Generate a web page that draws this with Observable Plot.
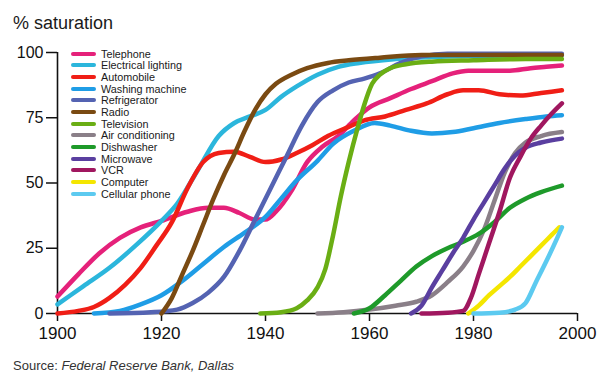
<!DOCTYPE html>
<html><head><meta charset="utf-8">
<script src="https://cdn.jsdelivr.net/npm/d3@7"></script>
<script src="https://cdn.jsdelivr.net/npm/@observablehq/plot@0.6"></script>
<style>
body{margin:0;background:#fff;font-family:"Liberation Sans",Arial,Helvetica,sans-serif;}
#wrap{position:relative;width:597px;height:374px;overflow:hidden;background:#fff}
#title{height:40px;box-sizing:border-box;padding:13px 0 0 13px;font-size:18px;line-height:20px;color:#1a1a1a}
#chart svg{display:block}
#legend{position:absolute;left:71px;top:48px;font-size:10.8px;color:#1a1a1a}
.item{height:11.65px;display:flex;align-items:center;white-space:nowrap}
.sw{width:25px;height:4px;margin-right:5px;border-radius:2px}
#caption{margin-top:8px;padding-left:13px;font-size:13px;line-height:15px;color:#333}
</style>
</head><body>
<div id="wrap">
  <div id="title">% saturation</div>
  <div id="chart"></div>
  <div id="caption">Source: <i>Federal Reserve Bank, Dallas</i></div>
  <div id="legend"></div>
</div>
<script>
const seriesNames = ["Telephone","Electrical lighting","Automobile","Washing machine","Refrigerator","Radio","Television","Air conditioning","Dishwasher","Microwave","VCR","Computer","Cellular phone"];
const seriesColors = ["#e5217a","#2bb6dc","#f01e16","#1f9de6","#5463b2","#7a4a12","#6aae14","#8a7f88","#1e9a2a","#5a3fa0","#a0175f","#f4e600","#5ccaf0"];
const xTicks = [1900,1920,1940,1960,1980,2000];
const yTicks = [0,25,50,75,100];

const telephone = [[1900,6.5],[1904,15],[1908,23],[1912,29],[1916,33],[1920,35.5],[1925,39],[1929,40.5],[1932,40.5],[1935,38.5],[1938,36],[1940,36],[1942,39],[1945,47],[1948,58],[1951,64],[1954,68],[1957,74],[1960,79],[1964,82.5],[1968,86],[1972,89],[1976,92],[1979,93],[1983,93],[1987,93],[1991,94],[1994,94.5],[1997,95]];
const electricalLighting = [[1900,3.5],[1905,10.5],[1910,17.5],[1915,26],[1920,35.5],[1923,42],[1927,55],[1931,68],[1934,73],[1937,75.5],[1940,78],[1943,83],[1946,87],[1950,91.5],[1954,94.5],[1958,96],[1965,97.5],[1975,98.5],[1997,99]];
const automobile = [[1900,0],[1904,1],[1907,2.5],[1910,6],[1913,11],[1916,17.5],[1919,26],[1922,35],[1925,48],[1928,58],[1931,61.5],[1934,62],[1937,60],[1940,58],[1943,59],[1946,61.5],[1949,64.5],[1952,68],[1956,71.5],[1959,74],[1963,75.5],[1967,78],[1971,80.5],[1975,84],[1978,85.5],[1981,85.5],[1985,84],[1989,83.5],[1993,84.5],[1997,85.5]];
const washingMachine = [[1907,0],[1912,1],[1916,3.5],[1920,7],[1924,12.5],[1928,19],[1932,25.5],[1936,31],[1940,37],[1943,44],[1946,51],[1950,58.5],[1953,65],[1957,70],[1961,73],[1964,72],[1968,70],[1972,69],[1976,69.5],[1980,71],[1985,73],[1990,74.5],[1994,75.5],[1997,76]];
const refrigerator = [[1910,0],[1918,0.5],[1923,1.5],[1926,4],[1929,8],[1932,14],[1935,24],[1938,36],[1941,48],[1944,60],[1947,72],[1950,81],[1953,85.5],[1956,88.5],[1959,90],[1962,92],[1966,96],[1970,98.5],[1975,99.5],[1997,99.5]];
const radio = [[1920,0],[1922,6],[1924,15],[1926,24],[1928,34],[1930,44],[1932,53],[1934,61],[1936,70],[1938,78],[1940,84],[1942,88],[1945,91.5],[1948,94],[1952,96],[1956,97],[1962,98],[1970,99],[1997,99]];
const television = [[1939,0],[1943,0.5],[1946,2],[1948,5],[1950,10],[1951.5,17],[1953,30],[1954.5,45],[1956,58],[1957.7,71],[1959,80],[1960.5,88],[1962,91.5],[1964,94],[1967,95.5],[1972,96.5],[1980,97],[1990,97.5],[1997,97.5]];
const airConditioning = [[1950,0],[1955,0.5],[1960,1.5],[1965,3],[1969,4.5],[1972,7],[1975,12],[1978,18],[1980,24],[1982,32],[1984,43],[1986,54],[1988,61.5],[1990,65.5],[1993,68],[1997,69.5]];
const dishwasher = [[1957,0],[1960,2],[1963,7],[1966,12.5],[1969,18],[1972,22],[1975,25],[1978,27.5],[1981,30.5],[1984,35],[1987,40.5],[1990,44],[1993,46.5],[1997,49]];
const microwave = [[1968,0],[1970,3],[1972,10],[1974,16.5],[1976,23],[1978,29],[1980,36],[1982,42.5],[1984,49],[1986,55.5],[1988,60.5],[1990,63.5],[1993,65.5],[1997,67]];
const vcr = [[1970,0],[1975,0.3],[1978,1],[1979.5,6],[1981,15],[1983,27],[1985,39],[1987,52],[1989,60],[1991,67],[1993,72],[1995,76.5],[1997,80.5]];
const computer = [[1979,0],[1981,3],[1983,7],[1985,10.5],[1987,14],[1989,18],[1991,22],[1993,26],[1995,30],[1996.5,33]];
const cellularPhone = [[1980,0],[1985,0.3],[1988,1.5],[1990,4],[1992,12],[1994,20],[1996,28.5],[1997,33]];

const seriesData = [telephone, electricalLighting, automobile, washingMachine, refrigerator, radio, television, airConditioning, dishwasher, microwave, vcr, computer, cellularPhone];
const rows = seriesNames.flatMap((name, i) => seriesData[i].map(([year, value]) => ({name, year, value})));

const chart = Plot.plot({
  width: 597, height: 310,
  marginLeft: 57, marginRight: 20, marginTop: 12, marginBottom: 37,
  style: {fontFamily: "'Liberation Sans', Arial, Helvetica, sans-serif", color: "#111", background: "transparent"},
  x: {domain: [1900, 2000]},
  y: {domain: [0, 100]},
  color: {domain: seriesNames, range: seriesColors},
  marks: [
    Plot.axisY({ticks: yTicks, tickSize: 11, tickPadding: 3, fontSize: 16, label: null, strokeWidth: 1.5}),
    Plot.axisX({ticks: xTicks, tickSize: 8, tickPadding: 5, fontSize: 17, label: null, tickFormat: d => String(d), strokeWidth: 1.5}),
    Plot.ruleX([1900], {y1: 0, y2: 100, strokeWidth: 1.6, stroke: "#111"}),
    Plot.ruleY([0], {x1: 1900, x2: 2000, strokeWidth: 1.6, stroke: "#111"}),
    Plot.line(rows, {x: "year", y: "value", z: "name", stroke: "name", strokeWidth: 4.5, curve: "monotone-x", strokeLinecap: "round", strokeLinejoin: "round"})
  ]
});
document.getElementById("chart").appendChild(chart);

const legend = d3.select("#legend");
seriesNames.forEach((name, i) => {
  const item = legend.append("div").attr("class", "item");
  item.append("div").attr("class", "sw").style("background", seriesColors[i]);
  item.append("span").text(name);
});
</script>
</body></html>
